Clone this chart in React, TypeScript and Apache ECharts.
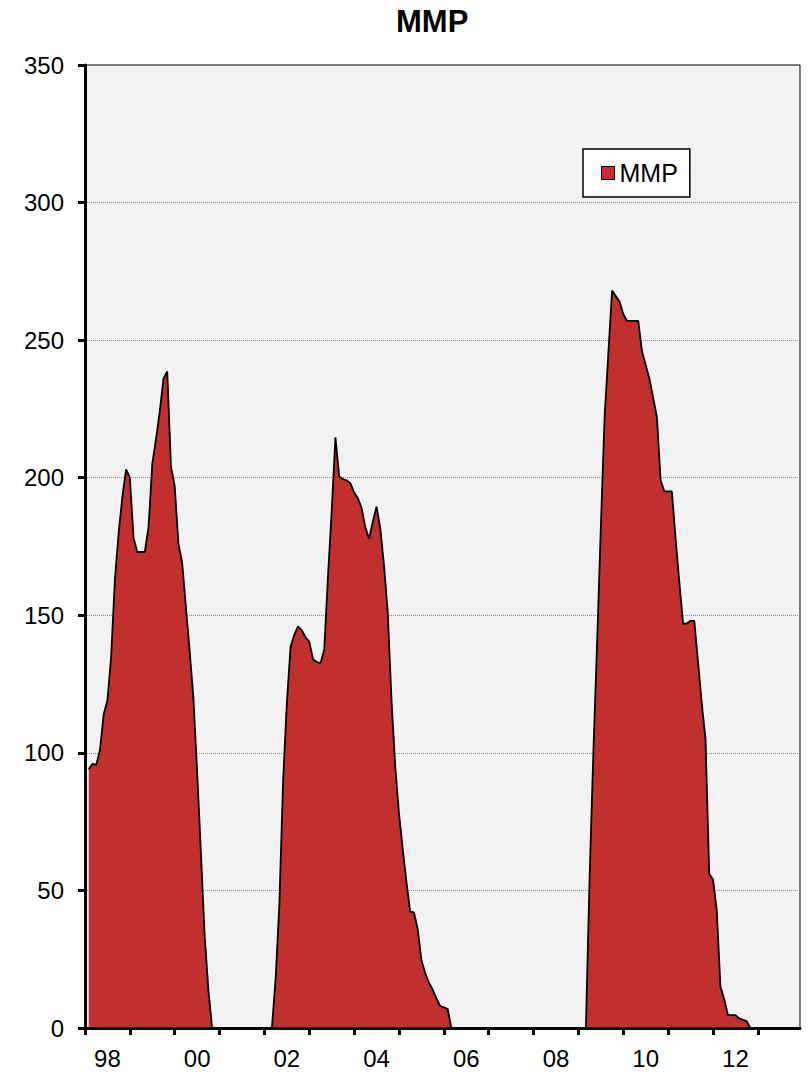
import React, { useEffect, useRef } from "react";
import * as echarts from "echarts";

const FONT = "'Liberation Sans', Arial, sans-serif";
const seriesName = "MMP";
const chartTitle = "MMP";

// Monthly values (1998 starts in February)
const mmp1998 = [94, 96, 95.6, 101, 114, 119, 135, 163, 180, 193, 203];
const mmp1999 = [200, 178, 173, 173, 173, 182, 205, 214, 224, 236, 238.6, 204];
const mmp2000 = [197, 176, 169, 153, 137, 120, 93, 64, 34, 14, 0, 0];
const mmp2001 = [0, 0, 0, 0, 0, 0, 0, 0, 0, 0, 0, 0];
const mmp2002 = [0, 0, 0, 18, 45, 90, 118, 138.6, 143, 146, 144.5, 142];
const mmp2003 = [140.4, 134, 133, 132.6, 137.5, 164, 188, 214.7, 200.4, 199.5, 199, 198];
const mmp2004 = [194.6, 192.5, 189, 182, 177.8, 184, 189.5, 181.6, 168, 151, 119, 95];
const mmp2005 = [78, 65, 53, 42.3, 42, 36, 24.7, 20, 16.5, 14, 10.8, 8];
const mmp2006 = [7.5, 7, 0, 0, 0, 0, 0, 0, 0, 0, 0, 0];
const mmp2007 = [0, 0, 0, 0, 0, 0, 0, 0, 0, 0, 0, 0];
const mmp2008 = [0, 0, 0, 0, 0, 0, 0, 0, 0, 0, 0, 0];
const mmp2009 = [0, 0, 0, 55, 100, 140, 182, 222, 245, 268, 266, 264];
const mmp2010 = [259.5, 257, 257, 257, 257, 246, 241, 236, 229, 222, 199, 195];
const mmp2011 = [195, 195, 178, 162, 147, 147, 148, 148, 133, 118, 105, 56];
const mmp2012 = [54, 43, 15, 10.5, 4.7, 4.7, 4.7, 3.5, 3, 2.5, 0, 0];
const mmp2013 = [0, 0, 0, 0, 0, 0, 0, 0, 0, 0, 0, 0];

const yearBlocks: [number, number, number[]][] = [
  [1998, 2, mmp1998],
  [1999, 1, mmp1999],
  [2000, 1, mmp2000],
  [2001, 1, mmp2001],
  [2002, 1, mmp2002],
  [2003, 1, mmp2003],
  [2004, 1, mmp2004],
  [2005, 1, mmp2005],
  [2006, 1, mmp2006],
  [2007, 1, mmp2007],
  [2008, 1, mmp2008],
  [2009, 1, mmp2009],
  [2010, 1, mmp2010],
  [2011, 1, mmp2011],
  [2012, 1, mmp2012],
  [2013, 1, mmp2013],
];

const xTickYears = [1998, 1999, 2000, 2001, 2002, 2003, 2004, 2005, 2006, 2007, 2008, 2009, 2010, 2011, 2012, 2013];
const xLabelYears = [1998, 2000, 2002, 2004, 2006, 2008, 2010, 2012];
const yMin = 0;
const yMax = 350;
const yStep = 50;

export default function App() {
  const ref = useRef<HTMLDivElement>(null);
  useEffect(() => {
    if (!ref.current) return;
    const chart = echarts.init(ref.current, undefined, { renderer: "svg" });
    const data: [number, number][] = [];
    yearBlocks.forEach(([year, firstMonth, vals]) => {
      vals.forEach((v, k) => {
        data.push([year + (firstMonth - 1 + k) / 12, v]);
      });
    });
    const option: any = {
      animation: false,
      backgroundColor: "#ffffff",
      title: {
        text: chartTitle,
        left: 396,
        top: 6,
        padding: 0,
        textStyle: { fontFamily: FONT, fontSize: 31, fontWeight: "bold", color: "#000" },
      },
      legend: {
        data: [{ name: seriesName, icon: "rect" }],
        left: 583,
        top: 149,
        backgroundColor: "#ffffff",
        borderColor: "#000",
        borderWidth: 1.5,
        borderRadius: 0,
        padding: [11.5, 12, 11.5, 18],
        itemWidth: 13,
        itemHeight: 13,
        itemStyle: { borderColor: "#000", borderWidth: 1 },
        textStyle: { fontFamily: FONT, fontSize: 25, color: "#000" },
      },
      grid: {
        left: 85,
        right: 8,
        top: 65,
        bottom: 46,
        show: true,
        backgroundColor: "#f2f2f2",
        borderColor: "#000",
        borderWidth: 1,
      },
      xAxis: {
        type: "value",
        min: 1998,
        max: 2013.94,
        z: 5,
        axisLine: { show: true, onZero: false, lineStyle: { color: "#000", width: 3 } },
        axisTick: {
          show: true,
          customValues: xTickYears,
          length: 7,
          lineStyle: { color: "#000", width: 3 },
        },
        axisLabel: {
          customValues: xLabelYears.map((y) => y + 0.5),
          formatter: (v: number) => String(Math.floor(v) % 100).padStart(2, "0"),
          fontFamily: FONT,
          fontSize: 24,
          color: "#000",
          margin: 18,
        },
        splitLine: { show: false },
      },
      yAxis: {
        type: "value",
        min: yMin,
        max: yMax,
        interval: yStep,
        axisLine: { show: true, lineStyle: { color: "#000", width: 3 } },
        axisTick: { show: true, length: 7, lineStyle: { color: "#000", width: 3 } },
        axisLabel: { fontFamily: FONT, fontSize: 24, color: "#000", margin: 21 },
        splitLine: {
          show: true,
          showMinLine: false,
          showMaxLine: false,
          lineStyle: { color: "#8c8c8c", type: "dotted", width: 1 },
        },
      },
      series: [
        {
          name: seriesName,
          type: "line",
          data,
          symbol: "none",
          z: 2,
          itemStyle: { color: "#c12f2f" },
          lineStyle: { color: "#000", width: 1.8 },
          areaStyle: { color: "#c12f2f", opacity: 1 },
        },
      ],
    };
    chart.setOption(option);
    return () => chart.dispose();
  }, []);
  return (
    <div
      ref={ref}
      style={{ position: "absolute", left: 0, top: 0, width: 808, height: 1074 }}
    />
  );
}
